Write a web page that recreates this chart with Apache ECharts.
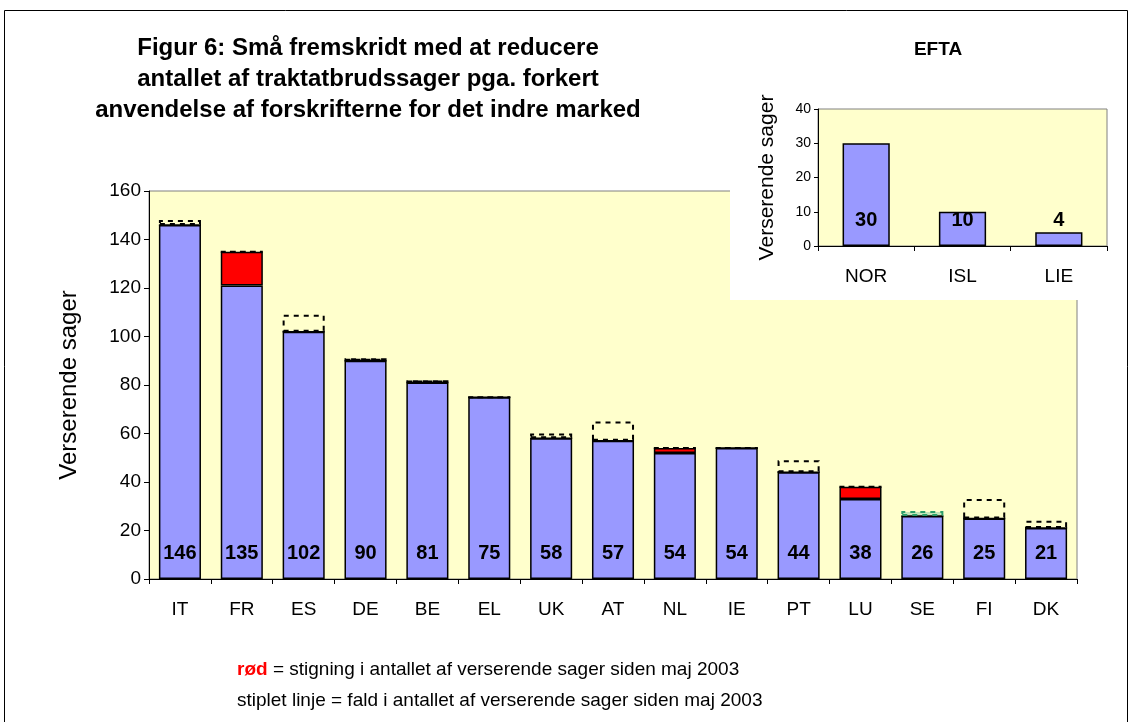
<!DOCTYPE html>
<html>
<head>
<meta charset="utf-8">
<script src="https://cdn.jsdelivr.net/npm/echarts@6/dist/echarts.min.js"></script>
<style>
  html, body { margin: 0; padding: 0; background: #fff; }
  #chart { width: 1132px; height: 722px; }
</style>
</head>
<body>
<div id="chart"></div>
<script>
// EU-lande: verserende sager nu og i maj 2003
const countries = ['IT', 'FR', 'ES', 'DE', 'BE', 'EL', 'UK', 'AT', 'NL', 'IE', 'PT', 'LU', 'SE', 'FI', 'DK'];
const currentCases = [146, 135, 102, 90, 81, 75, 58, 57, 54, 54, 44, 38, 26, 25, 21];
const may2003Cases = [148, 121, 109, 91, 82, 75, 60, 65, 52, 54, 49, 33, 28, 33, 24];

// EFTA-lande
const eftaCountries = ['NOR', 'ISL', 'LIE'];
const eftaCases = [30, 10, 4];

const yTicks = { min: 0, max: 160, interval: 20 };
const eftaTicks = { min: 0, max: 40, interval: 10 };

const FONT = '"Liberation Sans", Arial, sans-serif';
const BLUE = '#9999FF';
const YELLOW = '#FFFFCC';

// afledte serier: base, stigning (rød), fald (stiplet)
const baseVals = currentCases.map((v, i) => Math.min(v, may2003Cases[i]));
const riseVals = currentCases.map((v, i) => Math.max(0, v - may2003Cases[i]));
const fallVals = currentCases.map((v, i) => {
    const d = Math.max(0, may2003Cases[i] - v);
    if (countries[i] === 'SE') {
        return { value: d, itemStyle: { color: 'rgba(150,210,170,0.55)', borderColor: '#2E9E6A' } };
    }
    return d;
});

let myChart = echarts.init(document.getElementById('chart'));

let option = {
    animation: false,
    backgroundColor: '#fff',
    textStyle: { fontFamily: FONT },
    title: [
        {
            text: 'Figur 6: Små fremskridt med at reducere\nantallet af traktatbrudssager pga. forkert\nanvendelse af forskrifterne for det indre marked',
            left: 363, top: 28, textAlign: 'center',
            textStyle: { fontFamily: FONT, fontSize: 24, fontWeight: 'bold', color: '#000', lineHeight: 31 }
        },
        {
            text: 'EFTA',
            left: 933, top: 35, textAlign: 'center',
            textStyle: { fontFamily: FONT, fontSize: 19, fontWeight: 'bold', color: '#000' }
        },
        {
            text: '{r|rød} = stigning i antallet af verserende sager siden maj 2003\nstiplet linje = fald i antallet af verserende sager siden maj 2003',
            left: 232, top: 649,
            textStyle: {
                fontFamily: FONT, fontSize: 19, fontWeight: 'normal', color: '#000', lineHeight: 31,
                rich: { r: { color: '#FF0000', fontWeight: 'bold', fontSize: 19, fontFamily: FONT } }
            }
        }
    ],
    graphic: [
        { type: 'rect', z: 0, silent: true, shape: { x: 4.5, y: 10.5, width: 1123, height: 730 },
          style: { fill: 'none', stroke: '#000', lineWidth: 1 } },
        { type: 'rect', z: 1, silent: true, shape: { x: 730, y: 28, width: 380, height: 272 },
          style: { fill: '#fff' } }
    ],
    grid: [
        { left: 149, right: 55, top: 191, bottom: 143, z: 0, show: true,
          backgroundColor: YELLOW, borderColor: '#808080', borderWidth: 1 },
        { left: 818, right: 25, top: 109, bottom: 476, z: 2, show: true,
          backgroundColor: YELLOW, borderColor: '#808080', borderWidth: 1 }
    ],
    xAxis: [
        {
            type: 'category', gridIndex: 0, data: countries,
            axisLine: { lineStyle: { color: '#000', width: 1 } },
            axisTick: { show: true, length: 5, alignWithLabel: false, lineStyle: { color: '#000' } },
            axisLabel: { fontSize: 19, color: '#000', margin: 21, fontFamily: FONT }
        },
        {
            type: 'category', gridIndex: 1, data: eftaCountries, z: 3,
            axisLine: { lineStyle: { color: '#000', width: 1 } },
            axisTick: { show: true, length: 5, lineStyle: { color: '#000' } },
            axisLabel: { fontSize: 19, color: '#000', margin: 21, fontFamily: FONT }
        }
    ],
    yAxis: [
        {
            type: 'value', gridIndex: 0, min: yTicks.min, max: yTicks.max, interval: yTicks.interval,
            name: 'Verserende sager', nameLocation: 'middle', nameGap: 68,
            nameTextStyle: { fontSize: 24, color: '#000', fontFamily: FONT },
            axisLine: { show: true, lineStyle: { color: '#000', width: 1 } },
            axisTick: { show: true, length: 5, lineStyle: { color: '#000' } },
            axisLabel: { fontSize: 19, color: '#000', margin: 8, fontFamily: FONT },
            splitLine: { show: false }
        },
        {
            type: 'value', gridIndex: 1, min: eftaTicks.min, max: eftaTicks.max, interval: eftaTicks.interval, z: 3,
            name: 'Verserende sager', nameLocation: 'middle', nameGap: 40,
            nameTextStyle: { fontSize: 21, color: '#000', fontFamily: FONT },
            axisLine: { show: true, lineStyle: { color: '#000', width: 1 } },
            axisTick: { show: true, length: 4, lineStyle: { color: '#000' } },
            axisLabel: { fontSize: 14, color: '#000', margin: 7, fontFamily: FONT },
            splitLine: { show: false }
        }
    ],
    series: [
        {
            name: 'base', type: 'bar', stack: 'eu', xAxisIndex: 0, yAxisIndex: 0,
            barWidth: '68%', data: baseVals,
            itemStyle: { color: BLUE, borderColor: '#000', borderWidth: 1.5 },
            label: {
                show: true, position: 'insideBottom', distance: 16,
                fontSize: 20, fontWeight: 'bold', color: '#000', fontFamily: FONT,
                formatter: p => currentCases[p.dataIndex]
            }
        },
        {
            name: 'stigning', type: 'bar', stack: 'eu', xAxisIndex: 0, yAxisIndex: 0,
            barWidth: '68%', data: riseVals,
            itemStyle: { color: '#FF0000', borderColor: '#000', borderWidth: 1.5 }
        },
        {
            name: 'fald', type: 'bar', stack: 'eu', xAxisIndex: 0, yAxisIndex: 0,
            barWidth: '68%', data: fallVals, z: 3,
            itemStyle: { color: 'rgba(0,0,0,0)', borderColor: '#000', borderWidth: 2, borderType: [5, 5] }
        },
        {
            name: 'EFTA', type: 'bar', xAxisIndex: 1, yAxisIndex: 1, z: 4,
            barWidth: '49%', data: eftaCases,
            itemStyle: { color: BLUE, borderColor: '#000', borderWidth: 1.5 },
            label: {
                show: true, position: 'insideBottom', distance: 16,
                fontSize: 20, fontWeight: 'bold', color: '#000', fontFamily: FONT
            }
        }
    ]
};

myChart.setOption(option);

window.addEventListener('resize', function() {
    myChart.resize();
});
</script>
</body>
</html>
